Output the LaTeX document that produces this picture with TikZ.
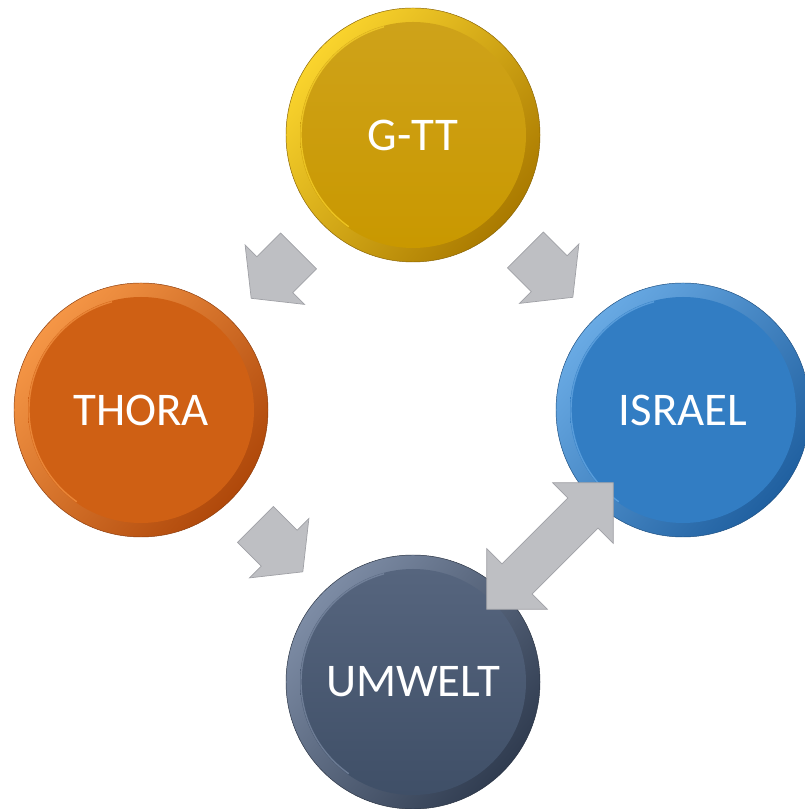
\documentclass[tikz,border=0pt]{standalone}
\usepackage{fontspec}
\setmainfont{Carlito}
\usetikzlibrary{shapes.arrows,calc}

\definecolor{gttface}{RGB}{201,152,0}
\definecolor{gttlight}{RGB}{250,212,45}
\definecolor{gttdark}{RGB}{170,122,0}
\definecolor{thoraface}{RGB}{207,96,20}
\definecolor{thoralight}{RGB}{245,150,70}
\definecolor{thoradark}{RGB}{175,72,10}
\definecolor{israelface}{RGB}{50,125,195}
\definecolor{israellight}{RGB}{105,170,228}
\definecolor{israeldark}{RGB}{32,96,160}
\definecolor{umwelttop}{RGB}{86,101,126}
\definecolor{umweltface}{RGB}{63,79,103}
\definecolor{umweltlight}{RGB}{125,140,165}
\definecolor{umweltdark}{RGB}{48,60,80}
\definecolor{pfeilgrau}{RGB}{190,191,195}
\definecolor{pfeilrand}{RGB}{160,161,166}

\tikzset{
  disc/.style n args={4}{circle,minimum size=76.2mm,inner sep=0pt,
    text=white,font=\fontsize{40}{48}\selectfont,
    draw=#4!80!black,line width=0.4pt,
    path picture={
      \shade[top color=#3,bottom color=#4,shading angle=50]
        (path picture bounding box.center) circle[radius=127];
      \shade[top color=#1,bottom color=#2]
        (path picture bounding box.center) circle[radius=113];
      \draw[#3,line width=1.2pt,opacity=.7]
        ($(path picture bounding box.center)+(105:112)$) arc[start angle=105,end angle=235,radius=112];
    }},
  pfeil/.style={single arrow,single arrow head extend=5mm,single arrow tip angle=103,
    minimum height=20.1mm,inner xsep=0pt,inner ysep=7.5mm,
    fill=pfeilgrau,draw=pfeilrand,line width=0.6pt},
  doppelpfeil/.style={double arrow,double arrow head extend=6.45mm,double arrow tip angle=90,
    minimum height=53.7mm,inner xsep=0pt,inner ysep=6.3mm,
    fill=pfeilgrau,draw=pfeilrand,line width=0.6pt}
}

\begin{document}
\begin{tikzpicture}[x=0.3mm,y=0.3mm]
\useasboundingbox (0,0) rectangle (804,809);
% Kreise
\node[disc={gttface!90!white}{gttface}{gttlight}{gttdark}] (gtt) at (413,674) {G-TT};
\node[disc={thoraface}{thoraface}{thoralight}{thoradark}] (thora) at (141,399) {THORA};
\node[disc={israelface}{israelface}{israellight}{israeldark}] (israel) at (683,399) {ISRAEL};
\node[disc={umwelttop}{umweltface}{umweltlight}{umweltdark}] (umwelt) at (413,127) {UMWELT};
% Pfeile
\node[pfeil,rotate=-135] (gtt-thora) at ($(gtt)!0.5!(thora)+(5,5)$) {};
\node[pfeil,rotate=-45] (gtt-israel) at ($(gtt)!0.5!(israel)+(-6,6)$) {};
\node[pfeil,rotate=-45] (thora-umwelt) at ($(thora)!0.5!(umwelt)+(-5,5)$) {};
\node[doppelpfeil,rotate=45] (umwelt-israel) at ($(umwelt)!0.5!(israel)+(2,0)$) {};
\end{tikzpicture}
\end{document}
